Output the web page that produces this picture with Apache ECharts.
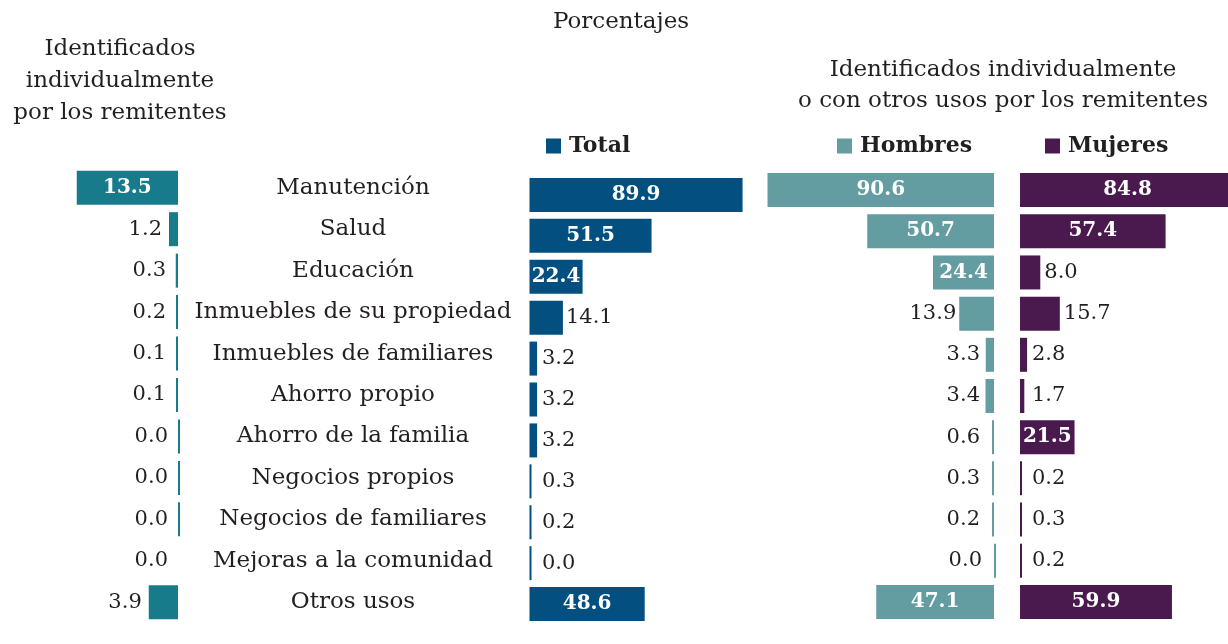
<!DOCTYPE html>
<html>
<head>
<meta charset="utf-8">
<script src="https://cdn.jsdelivr.net/npm/echarts@6/dist/echarts.min.js"></script>
<style>html,body{margin:0;padding:0;background:#fff}#c{width:1228px;height:644px}</style>
</head>
<body>
<div id="c"></div>
<script>
const categories = ['Manutención','Salud','Educación','Inmuebles de su propiedad','Inmuebles de familiares','Ahorro propio','Ahorro de la familia','Negocios propios','Negocios de familiares','Mejoras a la comunidad','Otros usos'];
const leftVals  = [13.5, 1.2, 0.3, 0.2, 0.1, 0.1, 0.0, 0.0, 0.0, 0.0, 3.9];
const totalVals = [89.9, 51.5, 22.4, 14.1, 3.2, 3.2, 3.2, 0.3, 0.2, 0.0, 48.6];
const menVals   = [90.6, 50.7, 24.4, 13.9, 3.3, 3.4, 0.6, 0.3, 0.2, 0.0, 47.1];
const womenVals = [84.8, 57.4, 8.0, 15.7, 2.8, 1.7, 21.5, 0.2, 0.3, 0.2, 59.9];
const leftNoBar = ['Mejoras a la comunidad'];
const seriesNames = ['Total','Hombres','Mujeres'];

const FONT = '"DejaVu Serif", serif';
const INK = '#231f20';
const C_LEFT = '#177b8c', C_TOTAL = '#024f80', C_MEN = '#639da1', C_WOMEN = '#4a1a4f';

// panel layout (pixels) and axis maxima
const P = {
  left:  { x: 28,    w: 150, top: 167,   h: 456, max: 20 },
  total: { x: 529.5, w: 237, top: 174.5, h: 450, max: 100 },
  men:   { x: 744,   w: 250, top: 169.5, h: 453, max: 100 },
  women: { x: 1020,  w: 208, top: 169.5, h: 453, max: 82 }
};
const MINBAR = 2;
const pxOf = (p, v) => Math.max(MINBAR, v * p.w / p.max);

// distance from bar end to an outside label, keeping tiny-value labels aligned in a column
function build(vals, p, threshold, outsidePos, distFn, hideCats) {
  return vals.map((v, i) => {
    const item = { value: v };
    if (v > threshold) {
      item.label = { position: 'inside', color: '#fff', fontWeight: 'bold', fontSize: 20 };
    } else {
      item.label = { position: outsidePos, distance: distFn(pxOf(p, v)), color: INK, fontWeight: 'normal', fontSize: 21 };
    }
    if (hideCats && hideCats.indexOf(categories[i]) >= 0) item.itemStyle = { color: 'rgba(0,0,0,0)' };
    return item;
  });
}

const fmt = p => Number(p.value).toFixed(1);
const hiddenCat = (gi) => ({ type: 'category', data: categories, inverse: true, gridIndex: gi, show: false });
const gridOf = p => ({ left: p.x, width: p.w, top: p.top, height: p.h, outerBoundsMode: 'none' });

const chart = echarts.init(document.getElementById('c'), null, { renderer: 'canvas' });
chart.setOption({
  animation: false,
  backgroundColor: '#fff',
  textStyle: { fontFamily: FONT },
  grid: [gridOf(P.left), gridOf(P.total), gridOf(P.men), gridOf(P.women)],
  xAxis: [
    { type: 'value', gridIndex: 0, min: 0, max: P.left.max, inverse: true, show: false },
    { type: 'value', gridIndex: 1, min: 0, max: P.total.max, show: false },
    { type: 'value', gridIndex: 2, min: 0, max: P.men.max, inverse: true, show: false },
    { type: 'value', gridIndex: 3, min: 0, max: P.women.max, show: false }
  ],
  yAxis: [
    { type: 'category', data: categories, inverse: true, gridIndex: 0, position: 'right',
      axisLine: { show: false }, axisTick: { show: false },
      axisLabel: { show: true, align: 'center', margin: 175, color: INK, fontSize: 23, fontFamily: FONT, padding: [4, 0, 0, 0] } },
    hiddenCat(1), hiddenCat(2), hiddenCat(3)
  ],
  legend: [
    { data: ['Total'], left: 546, top: 135, padding: 0, icon: 'rect', itemWidth: 15, itemHeight: 15,
      textStyle: { fontFamily: FONT, fontWeight: 'bold', fontSize: 22, color: INK, padding: [0,0,0,3] } },
    { data: ['Hombres'], left: 837, top: 135, padding: 0, icon: 'rect', itemWidth: 15, itemHeight: 15,
      textStyle: { fontFamily: FONT, fontWeight: 'bold', fontSize: 22, color: INK, padding: [0,0,0,3] } },
    { data: ['Mujeres'], left: 1045, top: 135, padding: 0, icon: 'rect', itemWidth: 15, itemHeight: 15,
      textStyle: { fontFamily: FONT, fontWeight: 'bold', fontSize: 22, color: INK, padding: [0,0,0,3] } }
  ],
  graphic: [
    { type: 'text', x: 621, y: 22, style: { text: 'Porcentajes', font: '23px ' + FONT, fill: INK, textAlign: 'center', textVerticalAlign: 'middle' } },
    { type: 'text', x: 120, y: 49, style: { text: 'Identificados', font: '23px ' + FONT, fill: INK, textAlign: 'center', textVerticalAlign: 'middle' } },
    { type: 'text', x: 120, y: 81, style: { text: 'individualmente', font: '23px ' + FONT, fill: INK, textAlign: 'center', textVerticalAlign: 'middle' } },
    { type: 'text', x: 120, y: 113, style: { text: 'por los remitentes', font: '23px ' + FONT, fill: INK, textAlign: 'center', textVerticalAlign: 'middle' } },
    { type: 'text', x: 1003, y: 70, style: { text: 'Identificados individualmente', font: '23px ' + FONT, fill: INK, textAlign: 'center', textVerticalAlign: 'middle' } },
    { type: 'text', x: 1003, y: 101, style: { text: 'o con otros usos por los remitentes', font: '23px ' + FONT, fill: INK, textAlign: 'center', textVerticalAlign: 'middle' } }
  ],
  series: [
    { name: 'Identificados', type: 'bar', xAxisIndex: 0, yAxisIndex: 0, barWidth: 34, barMinHeight: MINBAR, clip: false,
      itemStyle: { color: C_LEFT }, label: { show: true, formatter: fmt, fontFamily: FONT },
      data: build(leftVals, P.left, 10, 'left', px => Math.max(7, 12 - px), leftNoBar) },
    { name: seriesNames[0], type: 'bar', xAxisIndex: 1, yAxisIndex: 1, barWidth: 34, barMinHeight: MINBAR, clip: false,
      itemStyle: { color: C_TOTAL }, label: { show: true, formatter: fmt, fontFamily: FONT },
      data: build(totalVals, P.total, 20, 'right', px => Math.max(3, 12.5 - px)) },
    { name: seriesNames[1], type: 'bar', xAxisIndex: 2, yAxisIndex: 2, barWidth: 34, barMinHeight: MINBAR, clip: false,
      itemStyle: { color: C_MEN }, label: { show: true, formatter: fmt, fontFamily: FONT },
      data: build(menVals, P.men, 20, 'left', px => Math.max(3, 14 - px)) },
    { name: seriesNames[2], type: 'bar', xAxisIndex: 3, yAxisIndex: 3, barWidth: 34, barMinHeight: MINBAR, clip: false,
      itemStyle: { color: C_WOMEN }, label: { show: true, formatter: fmt, fontFamily: FONT },
      data: build(womenVals, P.women, 20, 'right', px => Math.max(4, 12 - px)) }
  ]
});
</script>
</body>
</html>
